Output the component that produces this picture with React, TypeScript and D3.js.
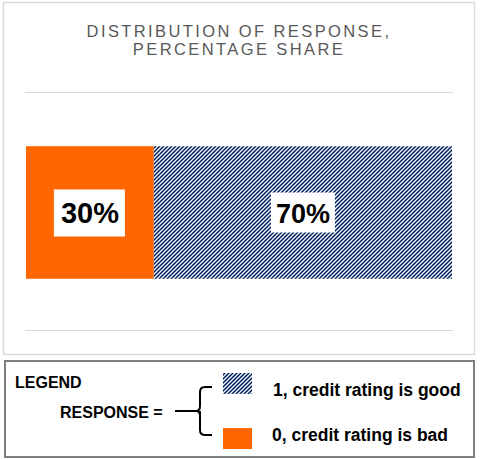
import { useEffect, useRef } from 'react'
import * as d3 from 'd3'

// Data
const responses = ['0', '1']
const shares = [30, 70]
const legendLabels = ['1, credit rating is good', '0, credit rating is bad']
const xTicks = [0, 100]
const titleLines = ['DISTRIBUTION OF RESPONSE,', 'PERCENTAGE SHARE']

const W = 482
const H = 459
const NAVY = '#002060'
const ORANGE = '#ff6600'
const FONT = 'Liberation Sans, Arial, sans-serif'

export default function App() {
  const svgRef = useRef<SVGSVGElement>(null)

  useEffect(() => {
    if (!svgRef.current) return
    const svg = d3.select(svgRef.current)
    svg.selectAll('*').remove()

    // diagonal hatch pattern
    const defs = svg.append('defs')
    const pat = defs.append('pattern')
      .attr('id', 'hatch')
      .attr('patternUnits', 'userSpaceOnUse')
      .attr('width', 4)
      .attr('height', 4)
    pat.append('rect').attr('width', 4).attr('height', 4).attr('fill', NAVY)
    pat.append('path')
      .attr('d', 'M-1,1 L1,-1 M0,4 L4,0 M3,5 L5,3')
      .attr('stroke', '#ffffff')
      .attr('stroke-width', 1.25)

    // chart frame
    svg.append('rect')
      .attr('x', 3.5).attr('y', 2.5)
      .attr('width', 471).attr('height', 352)
      .attr('fill', '#fff')
      .attr('stroke', '#d9d9d9')
      .attr('stroke-width', 1.5)

    // title
    svg.append('g').selectAll('text')
      .data(titleLines)
      .enter().append('text')
      .attr('x', 239)
      .attr('y', (_, i) => 37 + i * 18)
      .attr('text-anchor', 'middle')
      .attr('font-family', FONT)
      .attr('font-size', 16.5)
      .attr('letter-spacing', 2.4)
      .attr('fill', '#595959')
      .text(d => d)

    const x = d3.scaleLinear().domain(d3.extent(xTicks) as [number, number]).range([26, 452])
    const y = d3.scaleBand().domain(['Response']).range([93.5, 331.5]).paddingInner(0.2845).paddingOuter(0.2845)

    // gridlines (band edges)
    svg.append('g').selectAll('line')
      .data(y.range())
      .enter().append('line')
      .attr('x1', 25).attr('x2', 453)
      .attr('y1', d => Math.floor(d) - 0.5).attr('y2', d => Math.floor(d) - 0.5)
      .attr('stroke', '#d9d9d9')

    const stacked = d3.stack<number[]>().keys(responses.map((_, i) => String(i)))
      .value((d, k) => d[+k])([shares])
    const by = y('Response') || 0
    const bh = y.bandwidth()

    const segs = stacked.map((s, i) => ({ x0: s[0][0], x1: s[0][1], v: shares[i], key: responses[i] }))

    svg.append('g').selectAll('rect')
      .data(segs)
      .enter().append('rect')
      .attr('x', d => x(d.x0))
      .attr('y', by)
      .attr('width', d => x(d.x1) - x(d.x0))
      .attr('height', bh)
      .attr('fill', d => d.key === '0' ? ORANGE : 'url(#hatch)')

    // data labels with white boxes
    const lbl = svg.append('g').selectAll('g')
      .data(segs)
      .enter().append('g')
      .attr('transform', d => `translate(${(x(d.x0) + x(d.x1)) / 2},${by + bh / 2})`)
    lbl.append('rect')
      .attr('x', d => d.key === '0' ? -36 : -32)
      .attr('y', d => d.key === '0' ? -23 : -20)
      .attr('width', d => d.key === '0' ? 71 : 64)
      .attr('height', d => d.key === '0' ? 47 : 40)
      .attr('fill', '#fff')
    lbl.append('text')
      .attr('text-anchor', 'middle')
      .attr('dy', 10)
      .attr('font-family', FONT)
      .attr('font-weight', 'bold')
      .attr('font-size', d => d.key === '0' ? 29 : 27)
      .attr('fill', '#000')
      .text(d => `${d.v}%`)

    // legend box
    const lg = svg.append('g')
    lg.append('rect')
      .attr('x', 5).attr('y', 361)
      .attr('width', 469).attr('height', 96)
      .attr('fill', '#fff')
      .attr('stroke', '#7f7f7f')
      .attr('stroke-width', 2)

    const txt = (sel: d3.Selection<SVGGElement, unknown, null, undefined>, tx: number, ty: number, s: string, fs = 15) =>
      sel.append('text')
        .attr('x', tx).attr('y', ty)
        .attr('font-family', FONT)
        .attr('font-weight', 'bold')
        .attr('font-size', fs)
        .attr('fill', '#000')
        .text(s)

    txt(lg, 15, 388, 'LEGEND', 16)
    txt(lg, 60, 418, 'RESPONSE =', 16)

    // brace
    lg.append('path')
      .attr('d', 'M175,411 H196 Q200,411 200,406 V392 Q200,387 205,387 H212 M200,411 V430 Q200,435 205,435 H212 M196,411 Q200,411 200,416')
      .attr('fill', 'none')
      .attr('stroke', '#000')
      .attr('stroke-width', 2)

    const swatch = d3.scaleBand().domain(legendLabels).range([373, 449]).paddingInner(0.62)
    lg.selectAll('.sw')
      .data(legendLabels)
      .enter().append('rect')
      .attr('class', 'sw')
      .attr('x', 223)
      .attr('y', d => swatch(d) || 0)
      .attr('width', 29)
      .attr('height', swatch.bandwidth())
      .attr('fill', (_, i) => i === 0 ? 'url(#hatch)' : ORANGE)

    legendLabels.forEach((l, i) => {
      txt(lg, i === 0 ? 273 : 272, i === 0 ? 396 : 441, l, 17.5)
    })
  }, [])

  return (
    <svg
      ref={svgRef}
      width={W}
      height={H}
      style={{ position: 'absolute', left: 0, top: 0, background: '#fff' }}
    />
  )
}
